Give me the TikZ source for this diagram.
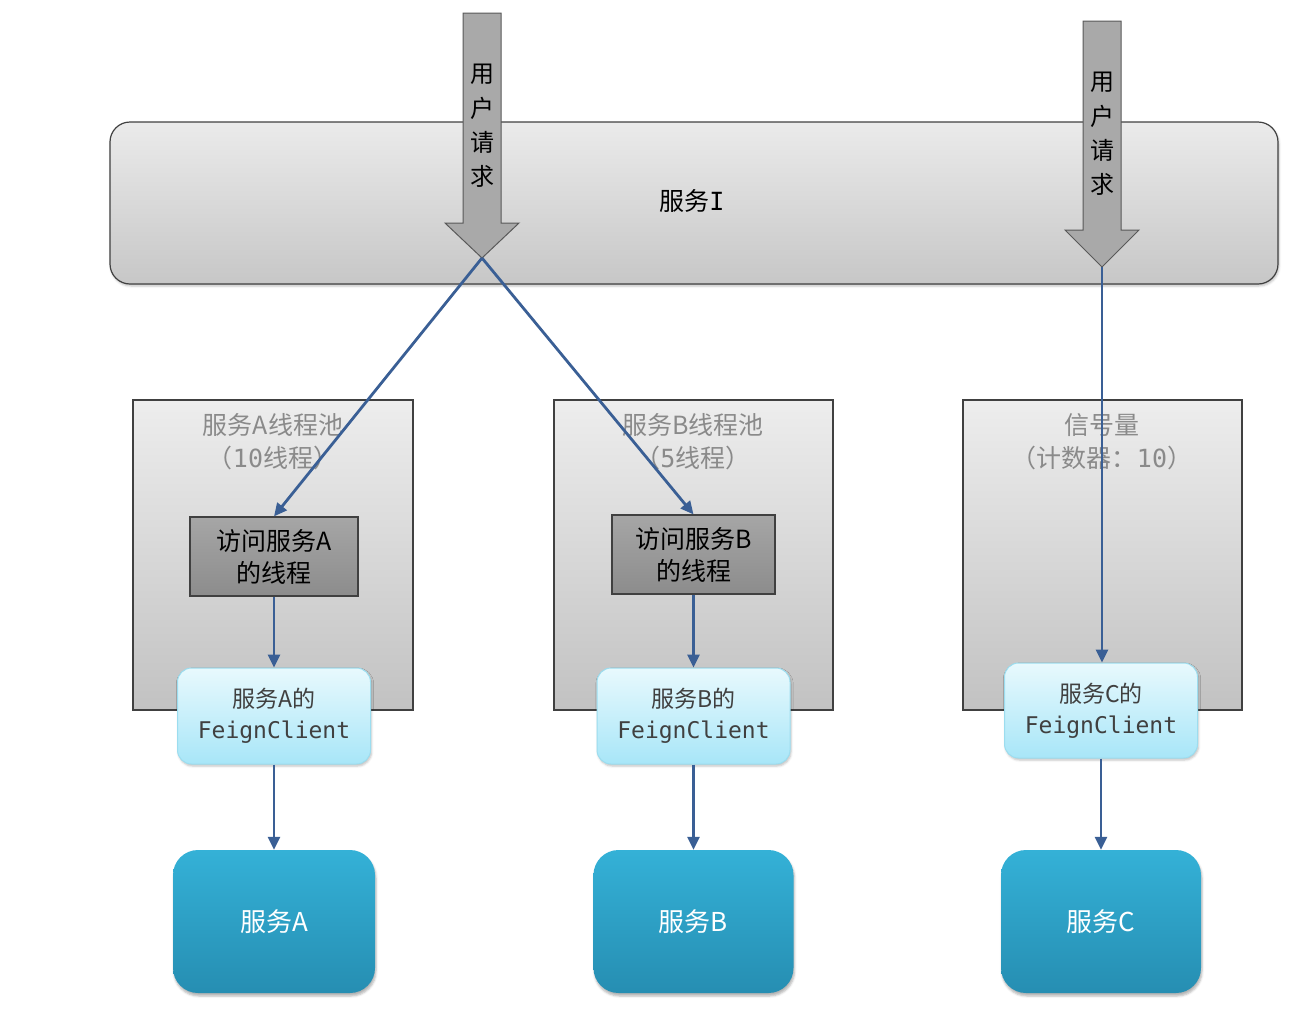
\documentclass[tikz,border=0pt]{standalone}
\usepackage{fontspec}
\setmainfont{Noto Sans CJK SC}
\newfontfamily\cjk{Noto Sans CJK SC}
\newfontfamily\mono{DejaVu Sans Mono}
\usetikzlibrary{arrows.meta,shadows.blur}
\definecolor{linkblue}{HTML}{3A5F95}
\definecolor{pooltxt}{HTML}{8A8A8A}
\definecolor{arrowgray}{HTML}{A9A9A9}
\definecolor{feigntop}{HTML}{E8F9FD}
\definecolor{feignbot}{HTML}{A8E6F8}
\definecolor{feignline}{HTML}{9CDDEF}
\definecolor{threadtop}{HTML}{A6A6A6}
\definecolor{threadbot}{HTML}{8C8C8C}
\tikzset{
  svcI/.style={draw=black!75,line width=1.2pt,rounded corners=20pt,top color=white!92!black,bottom color=white!78!black,blur shadow={shadow xshift=1pt,shadow yshift=-2pt,shadow opacity=25}},
  reqarrow/.style={draw=black!65,line width=1pt,fill=arrowgray},
  pool/.style={draw=black!75,line width=1.2pt,top color=white!93!black,bottom color=white!76!black},
  pooltitle/.style={text=pooltxt,align=center,font=\cjk\fontsize{25}{33}\selectfont},
  thread/.style={draw=black!75,line width=1.2pt,top color=threadtop,bottom color=threadbot,align=center,font=\cjk\fontsize{25}{32}\selectfont,text=black},
  feign/.style={draw=feignline,line width=1pt,rounded corners=14pt,top color=feigntop,bottom color=feignbot,align=center,text=black!75,font=\cjk\fontsize{23}{31}\selectfont,blur shadow={shadow xshift=1pt,shadow yshift=-2pt,shadow opacity=25}},
  svc/.style={rounded corners=25pt,top color={rgb,255:red,52;green,177;blue,215},bottom color={rgb,255:red,38;green,142;blue,178},text=white,font=\cjk\fontsize{26}{30}\selectfont,blur shadow={shadow xshift=1pt,shadow yshift=-3pt,shadow opacity=30}},
  link/.style={draw=linkblue,line width=2.8pt,-{Triangle[length=13pt,width=12pt]}},
}
\begin{document}
\begin{tikzpicture}[x=1pt,y=-1pt]
\useasboundingbox (0,0) rectangle (1316,1010);
% service I
\path[svcI] (110,122) rectangle (1278,284);
\node[font=\cjk\fontsize{25}{30}\selectfont] (sI) at (692,201) {服务{\mono I}};
% request arrows
\path[reqarrow] (463,13) -- (501,13) -- (501,223) -- (519,223) -- (482,258) -- (445,223) -- (463,223) -- cycle;
\coordinate (tip1) at (482,258);
\node[align=center,font=\cjk\fontsize{24}{34.2}\selectfont] (req1) at (482,126) {用\\户\\请\\求};
\path[reqarrow] (1083,21) -- (1121,21) -- (1121,230) -- (1139,230) -- (1102,267) -- (1065,230) -- (1083,230) -- cycle;
\coordinate (tip2) at (1102,267);
\node[align=center,font=\cjk\fontsize{24}{34.2}\selectfont] (req2) at (1102,134) {用\\户\\请\\求};
% pools
\path[pool] (133,400) rectangle (413,710);
\node[pooltitle] (tA) at (273,442) {服务A线程池\\（{\mono 10}线程）};
\path[pool] (554,400) rectangle (833,710);
\node[pooltitle] (tB) at (693,442) {服务B线程池\\（{\mono 5}线程）};
\path[pool] (963,400) rectangle (1242,710);
\node[pooltitle] (tC) at (1102,442) {信号量\\（计数器：{\mono 10}）};
% threads
\node[thread,minimum width=168pt,minimum height=79pt,inner sep=0pt] (thA) at (274,556.5) {访问服务A\\的线程};
\node[thread,minimum width=163pt,minimum height=79pt,inner sep=0pt] (thB) at (693.5,554.5) {访问服务B\\的线程};
% feign clients
\node[feign,minimum width=193pt,minimum height=96pt,inner sep=0pt] (fA) at (274,716) {服务A的\\{\mono\fontsize{23}{31}\selectfont FeignClient}};
\node[feign,minimum width=193pt,minimum height=96pt,inner sep=0pt] (fB) at (693.5,716) {服务B的\\{\mono\fontsize{23}{31}\selectfont FeignClient}};
\node[feign,minimum width=193pt,minimum height=95pt,inner sep=0pt] (fC) at (1101,710.5) {服务C的\\{\mono\fontsize{23}{31}\selectfont FeignClient}};
% services
\node[svc,minimum width=202pt,minimum height=143pt,inner sep=0pt] (sA) at (274,921.5) {服务A};
\node[svc,minimum width=200pt,minimum height=143pt,inner sep=0pt] (sB) at (693.5,921.5) {服务B};
\node[svc,minimum width=200pt,minimum height=143pt,inner sep=0pt] (sC) at (1101,921.5) {服务C};
% connectors
\draw[link] (tip1) -- (thA.north);
\draw[link] (tip1) -- (thB.north);
\draw[link] (tip2) -- (tip2 |- fC.north);
\draw[link] (thA) -- (fA);
\draw[link] (thB) -- (fB);
\draw[link] (fA) -- (sA);
\draw[link] (fB) -- (sB);
\draw[link] (fC) -- (sC);
\end{tikzpicture}
\end{document}
